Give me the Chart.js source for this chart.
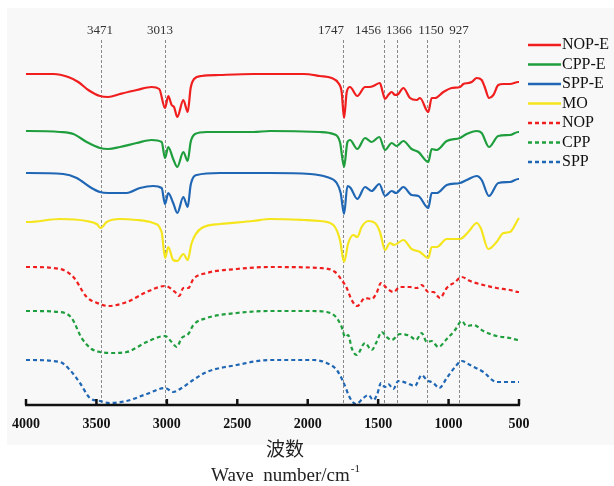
<!DOCTYPE html>
<html>
<head>
<meta charset="utf-8">
<script src="https://cdn.jsdelivr.net/npm/chart.js@4.4.1/dist/chart.umd.min.js"></script>
<style>
  html, body { margin: 0; padding: 0; background: #fff; }
  canvas { display: block; }
</style>
</head>
<body>
<canvas id="ftirChart" width="614" height="486"></canvas>
<script>
// spectra: [wave number, offset height]
const nopE = [[4000,330],[3984,330],[3806,330],[3700,327],[3629,322],[3558,314],[3475,308],[3416,307],[3333,310],[3214,314],[3108,317],[3054,315],[3013,296],[2990,308],[2966,299],[2949,297],[2926,287],[2883,304],[2852,292],[2831,316],[2807,325],[2753,328],[2623,329],[2386,330],[2268,330],[2197,330],[2031,330],[1913,328],[1830,326],[1783,321],[1759,312],[1742,286],[1723,312],[1700,317],[1648,308],[1593,317],[1558,317],[1534,318],[1487,321],[1468,312],[1451,305],[1428,309],[1404,312],[1380,309],[1357,310],[1321,316],[1274,306],[1226,304],[1203,306],[1144,292],[1120,306],[1096,306],[1037,312],[978,316],[919,317],[895,320],[860,321],[836,322],[800,326],[765,324],[741,316],[713,306],[682,309],[647,319],[611,320],[564,320],[505,322],[500,322]];
const cppE = [[4000,273],[3984,273],[3759,272],[3664,270],[3569,262],[3475,256],[3416,255],[3333,257],[3214,261],[3108,264],[3037,262],[3013,246],[2990,257],[2955,245],[2926,237],[2883,252],[2852,243],[2831,262],[2800,270],[2717,272],[2386,272],[2268,273],[1913,272],[1818,270],[1771,262],[1742,237],[1718,262],[1700,264],[1648,255],[1593,266],[1546,262],[1492,267],[1451,254],[1404,261],[1369,258],[1321,263],[1262,255],[1214,252],[1144,242],[1120,255],[1084,254],[1013,263],[919,266],[872,270],[800,273],[765,271],[713,257],[647,268],[564,269],[505,272],[500,272]];
const sppE = [[4000,231],[3984,231],[3735,230],[3640,226],[3546,217],[3475,212],[3416,211],[3285,211],[3191,216],[3097,218],[3037,216],[3013,200],[2990,211],[2955,201],[2926,191],[2883,207],[2852,197],[2831,219],[2788,229],[2623,231],[2268,231],[1984,230],[1865,227],[1794,221],[1766,211],[1742,190],[1718,218],[1695,216],[1648,205],[1593,217],[1546,213],[1492,220],[1451,208],[1404,213],[1373,211],[1321,217],[1262,209],[1214,208],[1144,196],[1120,211],[1084,211],[1013,219],[919,221],[872,224],[800,228],[765,224],[713,208],[647,221],[564,222],[505,225],[500,225]];
const mo = [[4000,182],[3984,182],[3759,185],[3569,183],[3498,180],[3470,176],[3427,182],[3333,185],[3214,184],[3097,181],[3037,172],[3013,146],[2990,157],[2955,144],[2926,143],[2883,150],[2852,144],[2824,161],[2753,176],[2623,180],[2386,183],[2268,185],[2031,184],[1913,183],[1818,179],[1771,164],[1742,142],[1712,161],[1676,169],[1648,167],[1617,177],[1570,183],[1522,181],[1487,172],[1451,154],[1416,161],[1387,159],[1321,164],[1262,155],[1203,152],[1144,146],[1120,157],[1084,157],[1013,165],[919,165],[860,172],[800,181],[772,176],[718,155],[659,162],[611,171],[564,172],[505,185],[500,186]];
const nop = [[4000,137],[3984,137],[3759,135],[3664,127],[3569,107],[3475,100],[3416,98],[3285,102],[3143,112],[3013,118],[2942,112],[2912,108],[2883,116],[2848,116],[2812,125],[2717,131],[2504,135],[2268,137],[1913,136],[1806,132],[1759,124],[1723,116],[1688,104],[1648,98],[1593,106],[1546,105],[1511,111],[1480,121],[1440,116],[1392,112],[1345,117],[1274,117],[1226,116],[1191,119],[1144,112],[1108,112],[1061,106],[1013,116],[954,122],[907,127],[848,123],[753,119],[659,116],[564,114],[505,112],[500,112]];
const cpp = [[4000,93],[3984,93],[3759,92],[3676,86],[3605,66],[3534,55],[3475,52],[3380,51],[3285,52],[3143,62],[3013,68],[2966,62],[2930,57],[2895,66],[2848,70],[2812,79],[2717,86],[2504,91],[2268,93],[1984,93],[1865,92],[1794,86],[1759,77],[1735,67],[1712,69],[1688,56],[1652,49],[1593,61],[1546,54],[1511,62],[1475,72],[1440,67],[1404,64],[1345,70],[1274,68],[1231,64],[1191,71],[1155,62],[1120,63],[1073,57],[1013,65],[954,74],[907,83],[872,78],[824,79],[753,73],[659,68],[564,66],[505,64],[500,64]];
const spp = [[4000,44],[3984,44],[3759,42],[3688,34],[3617,21],[3546,6],[3475,3],[3404,1],[3285,3],[3143,10],[3013,16],[2955,12],[2895,16],[2824,23],[2717,32],[2504,39],[2268,44],[1960,44],[1865,41],[1794,34],[1747,22],[1700,6],[1657,0],[1605,6],[1570,9],[1534,4],[1506,10],[1480,21],[1451,17],[1428,20],[1392,15],[1357,23],[1298,21],[1239,18],[1191,29],[1155,24],[1108,21],[1066,16],[1013,26],[954,37],[907,43],[848,39],[753,32],[659,22],[564,22],[505,22],[500,22]];

const seriesNames = ['NOP-E', 'CPP-E', 'SPP-E', 'MO', 'NOP', 'CPP', 'SPP'];
const seriesData = [nopE, cppE, sppE, mo, nop, cpp, spp];
const seriesColors = ['#f01e1e', '#1e9e3c', '#1f66b4', '#f5e51c', '#f01e1e', '#1e9e3c', '#1f66b4'];
const seriesDashed = [false, false, false, false, true, true, true];

const markerWaves = [3471, 3013, 1747, 1456, 1366, 1150, 927];   // labelled bands
const markerLabelAt = [3475, 3049, 1835, 1572, 1352, 1125, 926]; // where each label sits on the axis
const xTicks = [4000, 3500, 3000, 2500, 2000, 1500, 1000, 500];

const SERIF = '"Liberation Serif", "Times New Roman", serif';

// light grey panel behind the plot
const panelPlugin = {
  id: 'panel',
  beforeDraw(chart) {
    const c = chart.ctx;
    c.save();
    c.fillStyle = '#fff';
    c.fillRect(0, 0, chart.width, chart.height);
    c.fillStyle = '#f8f8f8';
    c.fillRect(7, 8, chart.width - 7, 437);
    c.restore();
  }
};

// dashed reference lines + their labels
const markerPlugin = {
  id: 'markers',
  beforeDatasetsDraw(chart) {
    const c = chart.ctx, xs = chart.scales.x, area = chart.chartArea;
    c.save();
    c.strokeStyle = '#8a8a8a';
    c.lineWidth = 1;
    c.setLineDash([3, 2]);
    c.fillStyle = '#333';
    c.font = '13px ' + SERIF;
    c.textAlign = 'center';
    c.textBaseline = 'middle';
    markerWaves.forEach((w, i) => {
      const px = Math.round(xs.getPixelForValue(w)) + 0.5;
      c.beginPath();
      c.moveTo(px, 40);
      c.lineTo(px, area.bottom);
      c.stroke();
      c.fillText(String(w), xs.getPixelForValue(markerLabelAt[i]), 31);
    });
    c.restore();
  }
};

// thick axis line with inward ticks
const axisPlugin = {
  id: 'axisLine',
  afterDatasetsDraw(chart) {
    const c = chart.ctx, xs = chart.scales.x, area = chart.chartArea;
    c.save();
    c.strokeStyle = '#111';
    c.lineWidth = 2.5;
    c.beginPath();
    c.moveTo(area.left - 1, area.bottom);
    c.lineTo(area.right + 1, area.bottom);
    c.stroke();
    xTicks.forEach(t => {
      const px = xs.getPixelForValue(t);
      c.beginPath();
      c.moveTo(px, area.bottom);
      c.lineTo(px, area.bottom - 6);
      c.stroke();
    });
    c.restore();
  }
};

// two-line axis title: Chinese + English with superscript
const titlePlugin = {
  id: 'axisTitle',
  afterDraw(chart) {
    const c = chart.ctx;
    const cx = 285;
    c.save();
    c.fillStyle = '#222';
    c.textBaseline = 'middle';
    c.textAlign = 'center';
    c.font = '19px "Noto Sans CJK SC"';
    c.fillText('波数', cx, 449);

    const main = 'Wave  number/cm';
    const sup = '-1';
    c.font = '19px ' + SERIF;
    const wMain = c.measureText(main).width;
    c.font = '11px ' + SERIF;
    const wSup = c.measureText(sup).width;
    const x0 = cx - (wMain + wSup) / 2;
    c.textAlign = 'left';
    c.font = '19px ' + SERIF;
    c.fillText(main, x0, 476);
    c.font = '11px ' + SERIF;
    c.fillText(sup, x0 + wMain + 1, 469);
    c.restore();
  }
};

// legend on the right
const legendPlugin = {
  id: 'sideLegend',
  afterDraw(chart) {
    const c = chart.ctx;
    c.save();
    c.font = '16px ' + SERIF;
    c.textBaseline = 'middle';
    c.textAlign = 'left';
    chart.data.datasets.forEach((ds, i) => {
      const y = 45 + i * 19.5;
      c.strokeStyle = ds.borderColor;
      c.lineWidth = 2.5;
      c.setLineDash(ds.borderDash || []);
      c.beginPath();
      c.moveTo(528, y);
      c.lineTo(561, y);
      c.stroke();
      c.fillStyle = '#111';
      c.fillText(ds.label, 562, y);
    });
    c.restore();
  }
};

const datasets = seriesNames.map((name, i) => ({
  label: name,
  data: seriesData[i].map(([x, y]) => ({ x, y })),
  borderColor: seriesColors[i],
  borderWidth: 2.2,
  borderDash: seriesDashed[i] ? [4, 3] : [],
  pointRadius: 0,
  fill: false,
  cubicInterpolationMode: 'monotone',
  clip: false
}));

new Chart(document.getElementById('ftirChart').getContext('2d'), {
  type: 'line',
  data: { datasets },
  options: {
    responsive: false,
    animation: false,
    layout: { padding: { left: 26, right: 95, top: 15, bottom: 0 } },
    scales: {
      x: {
        type: 'linear',
        reverse: true,
        min: 500,
        max: 4000,
        afterBuildTicks(scale) { scale.ticks = xTicks.map(v => ({ value: v })); },
        afterFit(scale) { scale.height = 81; },
        ticks: {
          padding: 3,
          maxRotation: 0,
          color: '#111',
          font: { family: SERIF, size: 14, weight: 'bold' },
          callback: v => String(v)
        },
        grid: { display: false },
        border: { display: false }
      },
      y: { display: false, min: -1, max: 389 }
    },
    plugins: {
      legend: { display: false },
      tooltip: { enabled: false }
    }
  },
  plugins: [panelPlugin, markerPlugin, axisPlugin, titlePlugin, legendPlugin]
});
</script>
</body>
</html>
